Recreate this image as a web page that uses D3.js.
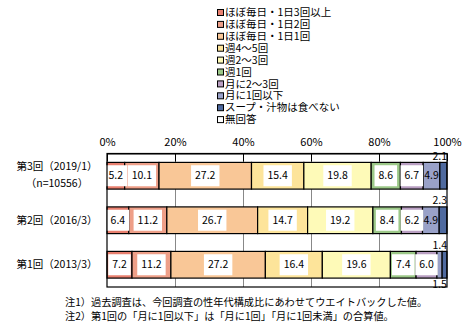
<!DOCTYPE html>
<html>
<head>
<meta charset="utf-8">
<script src="https://cdn.jsdelivr.net/npm/d3@7"></script>
<style>
  html, body { margin: 0; padding: 0; background: #fff; }
  svg { display: block; }
  text { font-family: "Noto Sans CJK JP", "Noto Sans", sans-serif; fill: #000; }
</style>
</head>
<body>
<svg id="chart" width="464" height="329"></svg>
<script>
// Survey waves (top to bottom) and their sample note
const categories = ['第3回（2019/1）', '第2回（2016/3）', '第1回（2013/3）'];
const categoryNotes = ['（n=10556）', '', ''];

// Answer categories, in stacking order
const seriesNames = [
  'ほぼ毎日・1日3回以上',
  'ほぼ毎日・1日2回',
  'ほぼ毎日・1日1回',
  '週4～5回',
  '週2～3回',
  '週1回',
  '月に2～3回',
  '月に1回以下',
  'スープ・汁物は食べない',
  '無回答'
];

// Shares (%) per wave, same order as seriesNames
const wave3 = [5.2, 10.1, 27.2, 15.4, 19.8, 8.6, 6.7, 4.9, 2.1, 0];
const wave2 = [6.4, 11.2, 26.7, 14.7, 19.2, 8.4, 6.2, 4.9, 2.3, 0];
const wave1 = [7.2, 11.2, 27.2, 16.4, 19.6, 7.4, 6.0, 1.5, 1.4, 0];

const tickValues = [0, 0.2, 0.4, 0.6, 0.8, 1];
const tickLabels = ['0%', '20%', '40%', '60%', '80%', '100%'];

const notes = [
  '注1）過去調査は、今回調査の性年代構成比にあわせてウエイトバックした値。',
  '注2）第1回の「月に1回以下」は「月に1回」「月に1回未満」の合算値。'
];

const colors = ['#e9806f', '#ee9f88', '#f9c797', '#fde49a', '#fefab8',
                '#9cc888', '#b99fc2', '#99a1c8', '#4f6a9f', '#ffffff'];

// ---- build rows for the stack ----
const waves = [wave3, wave2, wave1];
const rows = categories.map((c, i) => {
  const r = { category: c };
  seriesNames.forEach((s, j) => { r[s] = waves[i][j]; });
  return r;
});

// each bar is scaled to 100% of its row total
const stacked = d3.stack()
  .keys(seriesNames)
  .offset(d3.stackOffsetExpand)(rows);

const svg = d3.select('#chart');
const plot = { left: 107, right: 447, top: 153.5, bottom: 287 };

const x = d3.scaleLinear().domain([0, 1]).range([plot.left, plot.right]);
const y = d3.scaleBand().domain(categories)
  .range([plot.top, plot.bottom]).paddingInner(0.4).paddingOuter(0.2);

// ---- gridlines ----
svg.append('g').selectAll('line')
  .data(tickValues.slice(1, -1))
  .join('line')
  .attr('x1', d => Math.round(x(d)) + 0.5).attr('x2', d => Math.round(x(d)) + 0.5)
  .attr('y1', plot.top).attr('y2', plot.bottom)
  .attr('stroke', '#888').attr('stroke-width', 1);

// ---- bars ----
const layer = svg.append('g').selectAll('g')
  .data(stacked)
  .join('g')
  .attr('fill', (d, i) => colors[i]);

layer.selectAll('rect')
  .data(d => d.filter(p => p[1] - p[0] > 0))
  .join('rect')
  .attr('x', p => x(p[0]))
  .attr('width', p => x(p[1]) - x(p[0]))
  .attr('y', p => y(p.data.category))
  .attr('height', y.bandwidth())
  .attr('stroke', '#000').attr('stroke-width', 1.2);

// ---- value labels ----
const labelLayer = svg.append('g');
const plainSeries = new Set([seriesNames[7]]);
const aboveSeries = new Set([seriesNames[8]]);

stacked.forEach((s, si) => {
  s.forEach((p, ri) => {
    const v = waves[ri][si];
    if (!v) return;
    const x0 = x(p[0]), x1 = x(p[1]);
    const w = x1 - x0;
    const cx = (x0 + x1) / 2;
    const top = y(p.data.category);
    const bh = y.bandwidth();
    const g = labelLayer.append('g');
    const t = g.append('text')
      .attr('font-size', 10.5)
      .attr('text-anchor', 'middle')
      .text(v.toFixed(1));
    const tw = t.node().getComputedTextLength();
    if (w < 12) {
      // narrow segments: label just outside the bar
      const lx = Math.min(cx, plot.right - tw / 2);
      const ly = aboveSeries.has(s.key) ? top - 1.5 : top + bh + 1.5;
      t.attr('x', lx).attr('y', ly)
        .attr('dy', aboveSeries.has(s.key) ? '-0.1em' : '0.8em');
    } else {
      t.attr('x', cx).attr('y', top + bh / 2).attr('dy', '0.35em');
      if (!plainSeries.has(s.key)) {
        g.insert('rect', 'text')
          .attr('x', cx - tw / 2 - 4).attr('width', tw + 8)
          .attr('y', top + bh / 2 - 10.5).attr('height', 21)
          .attr('fill', '#fff');
      }
    }
  });
});

// ---- frame ----
svg.append('rect')
  .attr('x', plot.left).attr('y', plot.top)
  .attr('width', plot.right - plot.left).attr('height', plot.bottom - plot.top)
  .attr('fill', 'none').attr('stroke', '#000').attr('stroke-width', 1.2);

// ---- top axis ----
const axis = svg.append('g')
  .attr('transform', `translate(0,${plot.top})`)
  .call(d3.axisTop(x).tickValues(tickValues)
    .tickFormat((d, i) => tickLabels[i])
    .tickSizeInner(-8).tickSizeOuter(0).tickPadding(8));
axis.select('.domain').attr('stroke', '#000');
axis.selectAll('.tick line').attr('stroke', '#000');
axis.selectAll('.tick text')
  .attr('font-size', 11)
  .attr('font-family', '"Noto Sans CJK JP", sans-serif');

// ---- category labels ----
const catG = svg.append('g');
categories.forEach((c, i) => {
  const cy = y(c) + y.bandwidth() / 2;
  const note = categoryNotes[i];
  catG.append('text')
    .attr('x', 57).attr('y', note ? cy - 9 : cy)
    .attr('dy', '0.35em').attr('text-anchor', 'middle')
    .attr('font-size', 10.5).text(c);
  if (note) {
    catG.append('text')
      .attr('x', 57).attr('y', cy + 8)
      .attr('dy', '0.35em').attr('text-anchor', 'middle')
      .attr('font-size', 10.5).text(note);
  }
});

// ---- legend ----
const legend = svg.append('g').attr('transform', 'translate(217,0)');
seriesNames.forEach((name, i) => {
  const ly = 12.5 + i * 11.9;
  legend.append('rect')
    .attr('x', 0.5).attr('y', ly - 3).attr('width', 6).attr('height', 6)
    .attr('fill', colors[i]).attr('stroke', '#000').attr('stroke-width', 1);
  legend.append('text')
    .attr('x', 8).attr('y', ly).attr('dy', '0.35em')
    .attr('font-size', 10.5).text(name);
});

// ---- notes ----
notes.forEach((n, i) => {
  svg.append('text')
    .attr('x', 65).attr('y', 302 + i * 14.5).attr('dy', '0.35em')
    .attr('font-size', 10.2).text(n);
});
</script>
</body>
</html>
